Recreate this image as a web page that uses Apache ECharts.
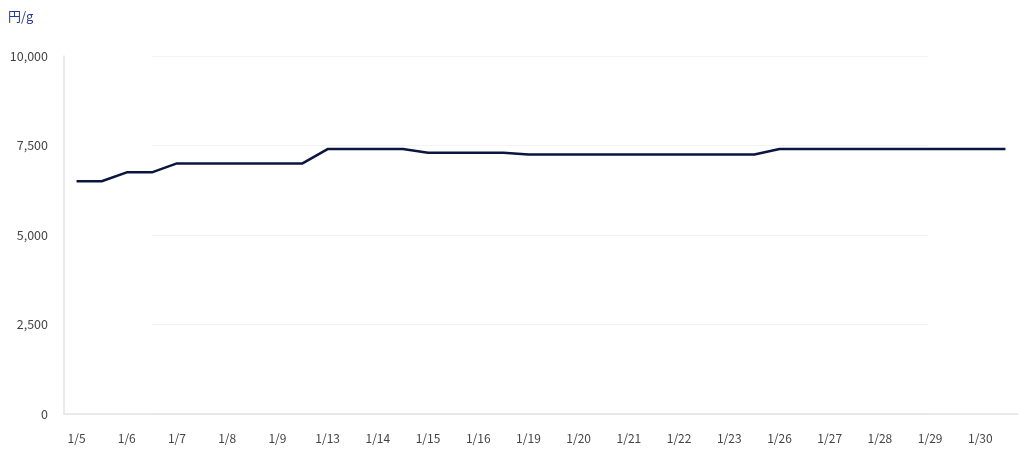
<!DOCTYPE html>
<html><head><meta charset="utf-8">
<script src="https://cdn.jsdelivr.net/npm/echarts@6/dist/echarts.min.js"></script>
<style>html,body{margin:0;padding:0;background:#fff}#c{width:1025px;height:455px}</style>
</head><body><div id="c"></div>
<script>
const days = ['1/5','1/6','1/7','1/8','1/9','1/13','1/14','1/15','1/16','1/19','1/20','1/21','1/22','1/23','1/26','1/27','1/28','1/29','1/30'];
const sessions = ['AM','PM'];
const prices = [
  6500,6500, 6750,6750, 7000,7000, 7000,7000, 7000,7000,
  7400,7400, 7400,7400, 7300,7300, 7300,7300, 7250,7250,
  7250,7250, 7250,7250, 7250,7250, 7250,7250, 7400,7400,
  7400,7400, 7400,7400, 7400,7400, 7400,7400
];
const yTicks = [0,2500,5000,7500,10000];
const unit = '円/g';

const categories = [];
days.forEach(d => sessions.forEach(s => categories.push(d + ' ' + s)));

const font = '"Noto Sans CJK JP","Noto Sans",sans-serif';
const chart = echarts.init(document.getElementById('c'), null, {renderer:'canvas'});
chart.setOption({
  animation:false,
  textStyle:{fontFamily:font},
  title:{text:unit,left:3,top:5,textStyle:{fontFamily:font,fontSize:13,fontWeight:'normal',color:'#23399a'}},
  grid:[
    {left:64,right:7,top:56,bottom:41,containLabel:false},
    {left:152,right:97,top:56,bottom:41,containLabel:false}
  ],
  xAxis:[
    {type:'category',gridIndex:0,data:categories,boundaryGap:true,
     axisLine:{lineStyle:{color:'#e3e3e3',width:1.5}},axisTick:{show:false},
     axisLabel:{interval:1,color:'#444',fontSize:12,margin:18,fontFamily:font,
       formatter:v=>v.split(' ')[0]}},
    {type:'value',gridIndex:1,show:false,min:0,max:1}
  ],
  yAxis:[
    {type:'value',gridIndex:0,min:yTicks[0],max:yTicks[yTicks.length-1],interval:2500,
     axisLine:{show:true,lineStyle:{color:'#e3e3e3',width:1.5}},axisTick:{show:false},
     splitLine:{show:false},
     axisLabel:{color:'#444',fontSize:12.5,margin:16,fontFamily:font,
       formatter:v=>v.toLocaleString('en-US')}},
    {type:'value',gridIndex:1,min:yTicks[0],max:yTicks[yTicks.length-1],interval:2500,
     axisLine:{show:false},axisTick:{show:false},axisLabel:{show:false},
     splitLine:{show:true,lineStyle:{color:'#f3f3f3',width:1}}}
  ],
  series:[{
    type:'line',xAxisIndex:0,yAxisIndex:0,data:prices,
    showSymbol:false,symbol:'none',
    lineStyle:{color:'#0b1640',width:2.5},
    itemStyle:{color:'#0b1640'}
  }]
});
</script></body></html>
